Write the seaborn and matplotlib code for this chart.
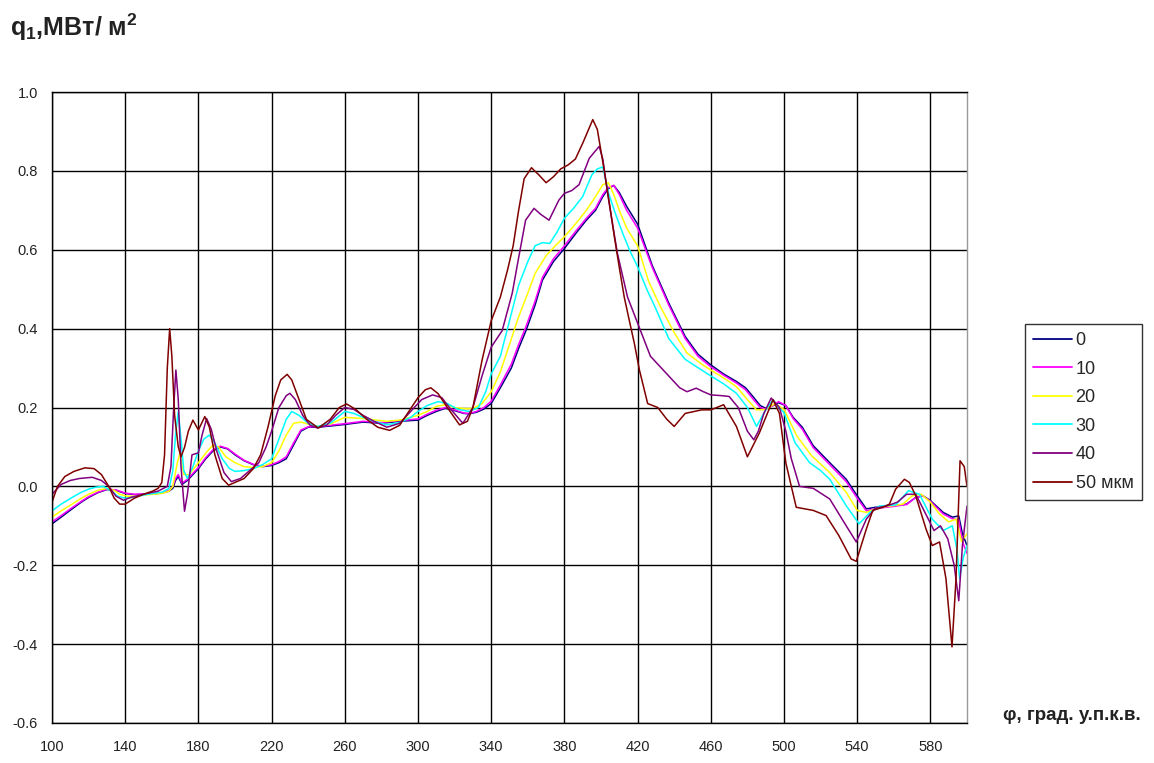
import numpy as np
import pandas as pd
import matplotlib
matplotlib.use("Agg")
import matplotlib.pyplot as plt
from matplotlib.lines import Line2D
import seaborn as sns

# ---------------- data ----------------
series_labels = ["0", "10", "20", "30", "40", "50 мкм"]
series_colors = ["#000080", "#FF00FF", "#FFFF00", "#00FFFF", "#800080", "#800000"]

x0 = [100,105,111,116,120,125,130,135,140,145,150,155,160,164,166,167.5,169,171,174,177,
      180,184,188,192,196,200,205,210,215,220,224,228,232,236,240,245,252,260,270,280,
      290,300,305,310,315,320,325,328,332,336,340,345,351,355,359,364,368,374,380,386,
      392,397,401,404,407,410,414,420,428,437,446,453,460,467,474,479,483,487,490,494,
      497,501,505,510,516,525,534,540,545,550,558,567,572,576,580,587,592,595.5,597.5,600]
y0 = [-0.095,-0.078,-0.057,-0.04,-0.028,-0.016,-0.008,-0.01,-0.018,-0.021,
      -0.02,-0.019,-0.017,-0.012,-0.005,0.015,0.025,0.005,0.015,0.03,
      0.045,0.07,0.09,0.10,0.095,0.08,0.065,0.055,0.05,0.053,
      0.06,0.07,0.105,0.14,0.15,0.15,0.153,0.157,0.163,0.16,
      0.165,0.168,0.18,0.19,0.198,0.192,0.185,0.184,0.188,0.196,
      0.21,0.25,0.30,0.35,0.395,0.46,0.523,0.57,0.603,0.64,
      0.675,0.70,0.735,0.755,0.763,0.745,0.71,0.665,0.56,0.465,
      0.38,0.335,0.308,0.285,0.266,0.25,0.228,0.205,0.198,0.205,
      0.212,0.205,0.175,0.15,0.103,0.06,0.018,-0.024,-0.057,-0.053,
      -0.05,-0.045,-0.028,-0.024,-0.036,-0.066,-0.078,-0.075,-0.12,-0.15]

x10 = x0
y10 = [-0.09,-0.074,-0.054,-0.038,-0.026,-0.015,-0.007,-0.009,-0.017,-0.02,
       -0.019,-0.018,-0.016,-0.01,0.0,0.02,0.03,0.008,0.018,0.033,
       0.048,0.073,0.093,0.102,0.096,0.082,0.066,0.056,0.051,0.055,
       0.063,0.075,0.11,0.143,0.151,0.151,0.155,0.159,0.165,0.162,
       0.167,0.171,0.183,0.193,0.2,0.194,0.186,0.185,0.19,0.2,
       0.216,0.257,0.31,0.36,0.405,0.47,0.53,0.577,0.61,0.646,
       0.68,0.705,0.74,0.758,0.763,0.74,0.70,0.655,0.555,0.46,
       0.375,0.33,0.303,0.282,0.262,0.245,0.222,0.2,0.196,0.205,
       0.215,0.205,0.172,0.145,0.098,0.055,0.012,-0.03,-0.062,-0.056,
       -0.052,-0.046,-0.028,-0.024,-0.038,-0.07,-0.082,-0.085,-0.14,-0.17]

x20 = [100,105,111,116,120,125,130,134,137,141,145,150,155,160,164,166,168.5,170,172,175,
       180,185,188,191,195,200,205,210,215,220,224,228,232,236,240,245,252,260,270,283,
       290,300,305,310,315,320,326,330,335,340,345,350,355,360,364,370,375,380,386,392,
       397,401,404,407,410,414,420,426,432,440,447,455,460,467,474,480,485,490,495,500,
       507,515,525,534,540,545,552,558,565,570,575,580,585,590,594,597,600]
y20 = [-0.078,-0.062,-0.045,-0.03,-0.02,-0.01,-0.005,-0.01,-0.02,-0.025,
       -0.025,-0.022,-0.02,-0.018,-0.012,0.0,0.06,0.085,0.03,0.03,
       0.06,0.09,0.105,0.10,0.075,0.06,0.05,0.048,0.05,0.06,
       0.09,0.13,0.16,0.163,0.158,0.152,0.158,0.175,0.172,0.165,
       0.168,0.18,0.19,0.203,0.207,0.20,0.197,0.198,0.21,0.24,
       0.29,0.36,0.43,0.49,0.54,0.585,0.61,0.633,0.665,0.70,
       0.735,0.765,0.77,0.74,0.70,0.655,0.61,0.52,0.46,0.39,
       0.338,0.31,0.295,0.275,0.253,0.22,0.194,0.195,0.21,0.195,
       0.128,0.078,0.035,-0.015,-0.061,-0.066,-0.053,-0.05,-0.045,-0.024,
       -0.02,-0.04,-0.07,-0.09,-0.083,-0.14,-0.12]

x30 = [100,105,111,116,120,124,128,132,136,140,145,150,155,160,164,166,167.5,169,170.5,172,
       174,177,180,183,186,189,193,197,200,205,210,215,220,224,228,231,235,240,245,252,
       260,265,270,276,283,290,296,300,305,311,316,322,328,333,337,340,345,350,355,360,
       364,368,372,376,380,385,390,395,398,401,404,408,412,416,420,425,430,437,446,455,
       460,467,474,480,485,490,494,497,500,506,514,520,525,534,541,547,552,561,568,574,
       581,587,592,594.5,596,598,600]
y30 = [-0.062,-0.045,-0.028,-0.015,-0.007,-0.002,0.0,-0.01,-0.025,-0.03,
       -0.027,-0.022,-0.018,-0.015,-0.005,0.04,0.13,0.19,0.12,0.04,
       0.02,0.05,0.09,0.12,0.13,0.11,0.07,0.045,0.038,0.04,
       0.045,0.055,0.07,0.12,0.17,0.19,0.18,0.16,0.152,0.16,
       0.19,0.185,0.175,0.165,0.156,0.162,0.175,0.19,0.205,0.215,
       0.21,0.195,0.19,0.20,0.24,0.285,0.33,0.42,0.51,0.57,
       0.61,0.618,0.616,0.645,0.68,0.705,0.735,0.79,0.805,0.81,
       0.745,0.69,0.64,0.595,0.557,0.50,0.45,0.375,0.322,0.295,
       0.28,0.26,0.236,0.20,0.152,0.194,0.22,0.20,0.187,0.111,
       0.06,0.04,0.018,-0.049,-0.095,-0.066,-0.05,-0.047,-0.011,-0.02,
       -0.083,-0.112,-0.1,-0.16,-0.234,-0.18,-0.15]

x40 = [100,105,110,115,122,127,131,135,139,143,150,158,163,165,166.5,167.7,169,170.5,172.4,174,
       176.5,180,182,184.5,187,190,194,198,203,208,213,217,220,224,228,230,233,237,241,245,
       250,255,260,265,270,276,283,290,296,302,308,313,318,324.5,330,335,340,346,351.5,355,
       358.8,363.4,367,371.6,377,380,384,388,393.6,399,401,403.6,406.5,409,414.5,420,427,433,439,443,
       447,452,456,460,466,470,475,480,483.5,486,489,493,497.5,501,504,508.5,516,525,534,539.5,
       545,550,556,562,567,572,577,582,585.5,589.5,593,595.5,597.5,600]
y40 = [-0.02,0.005,0.015,0.02,0.023,0.015,0.0,-0.025,-0.035,-0.028,
       -0.02,-0.012,0.0,0.05,0.2,0.295,0.22,0.05,-0.063,-0.02,
       0.08,0.085,0.13,0.172,0.145,0.09,0.035,0.012,0.02,0.04,
       0.06,0.1,0.14,0.2,0.23,0.236,0.22,0.18,0.155,0.148,
       0.155,0.18,0.2,0.195,0.18,0.165,0.15,0.16,0.19,0.22,
       0.232,0.225,0.195,0.16,0.2,0.28,0.353,0.395,0.49,0.58,
       0.675,0.705,0.69,0.675,0.726,0.743,0.75,0.765,0.832,0.862,
       0.83,0.743,0.66,0.59,0.48,0.414,0.33,0.30,0.27,0.25,
       0.24,0.249,0.24,0.232,0.23,0.228,0.2,0.14,0.118,0.14,
       0.185,0.224,0.2,0.14,0.07,0.0,-0.005,-0.032,-0.1,-0.141,
       -0.083,-0.055,-0.05,-0.04,-0.02,-0.02,-0.066,-0.112,-0.1,-0.133,
       -0.2,-0.29,-0.15,-0.05]

x50 = [100,103,107,112,118,123,127,131,134,137,140,145,150,155,158,160,161.5,163,164.3,165.5,
       167,169,170.5,172.5,174.5,177,180,183.5,186,189,193,196.5,200,205,210,214,218,222,225,228.5,
       231,235,239,245.5,252,257,261,266,272,278,284.5,290,295,300,304,307,311,316,322.7,327,
       330,335,340,345,349,352,355,358,362,366,370,374,378,382,386,390,395.5,398,401.8,404.5,
       407.3,410,412.7,415.5,418.2,421,425.5,431,436,440,446,455,460,467,474,480,486.5,494,497.5,501,
       504,506.7,516,523,530,536.7,539.5,545,548.5,554,557.6,561,565.8,568.5,572,577.6,581,585,588.5,591.8,
       594,596.2,598.5,600]
y50 = [-0.04,0.0,0.025,0.038,0.047,0.045,0.03,0.0,-0.03,-0.045,
       -0.045,-0.03,-0.02,-0.012,-0.005,0.01,0.08,0.30,0.40,0.33,
       0.18,0.10,0.075,0.10,0.14,0.168,0.143,0.177,0.15,0.08,
       0.02,0.003,0.01,0.02,0.045,0.08,0.15,0.23,0.27,0.284,
       0.27,0.22,0.17,0.148,0.17,0.2,0.209,0.195,0.17,0.15,
       0.142,0.155,0.19,0.225,0.245,0.25,0.235,0.2,0.156,0.165,
       0.2,0.32,0.42,0.48,0.55,0.61,0.70,0.78,0.808,0.79,
       0.77,0.785,0.805,0.815,0.83,0.87,0.93,0.905,0.80,0.72,
       0.633,0.555,0.48,0.42,0.363,0.295,0.21,0.2,0.17,0.152,
       0.185,0.194,0.194,0.207,0.152,0.075,0.135,0.22,0.185,0.06,
       0.0,-0.053,-0.061,-0.074,-0.125,-0.184,-0.19,-0.108,-0.061,-0.053,
       -0.045,-0.007,0.018,0.01,-0.024,-0.108,-0.15,-0.141,-0.234,-0.407,
       -0.234,0.065,0.05,0.0]

x_ticks = list(range(100, 600, 40))
y_ticks = [-0.6, -0.4, -0.2, 0.0, 0.2, 0.4, 0.6, 0.8, 1.0]

# ---------------- long-form table ----------------
frames = []
for lab, xs, ys in zip(series_labels, [x0, x10, x20, x30, x40, x50],
                       [y0, y10, y20, y30, y40, y50]):
    frames.append(pd.DataFrame({"phi": xs, "q": ys, "series": lab}))
df = pd.concat(frames, ignore_index=True)

# ---------------- plot ----------------
sns.set_style("white")
plt.rcParams["font.family"] = ["Liberation Sans", "DejaVu Sans"]
plt.rcParams["axes.unicode_minus"] = False
plt.rcParams["mathtext.fontset"] = "custom"
plt.rcParams["mathtext.rm"] = "Liberation Sans:bold"
plt.rcParams["mathtext.it"] = "Liberation Sans:bold"
plt.rcParams["mathtext.bf"] = "Liberation Sans:bold"

W, H = 1154, 763
fig = plt.figure(figsize=(W / 100, H / 100), dpi=100)
ax = fig.add_axes([52 / W, 1 - 723 / H, (967 - 52) / W, (723 - 92) / H])

palette = dict(zip(series_labels, series_colors))
sns.lineplot(data=df, x="phi", y="q", hue="series", hue_order=series_labels,
             palette=palette, estimator=None, sort=False, linewidth=1.1,
             legend=False, ax=ax)

ax.set_xlim(100, 600)
ax.set_ylim(-0.6, 1.0)
ax.set_xticks(x_ticks)
ax.set_yticks(y_ticks)
ax.set_yticklabels([f"{v:.1f}" for v in y_ticks])
ax.grid(True, color="black", linewidth=1.0)
ax.set_axisbelow(True)
ax.tick_params(axis="x", length=0, pad=12, labelsize=10.5, colors="#222222")
ax.tick_params(axis="y", length=4, width=1, direction="out", pad=6,
               labelsize=10.5, colors="black", labelcolor="#222222")
ax.set_xlabel("")
ax.set_ylabel("")
for side in ["left", "bottom", "top"]:
    ax.spines[side].set_color("black")
    ax.spines[side].set_linewidth(1.0)
ax.spines["right"].set_color("#9a9a9a")
ax.spines["right"].set_linewidth(1.0)

fig.text(10 / W, 1 - 27 / H, r"q$_\mathrm{1}$,МВт/ м$^\mathrm{2}$", fontsize=18,
         fontweight="bold", ha="left", va="center", color="#222222")
fig.text(1003 / W, 1 - 716 / H, "φ, град. у.п.к.в.", fontsize=13.5,
         fontweight="bold", ha="left", va="center", color="#222222")

handles = [Line2D([0], [0], color=c, linewidth=1.3) for c in series_colors]
leg = fig.legend(handles, series_labels, loc="upper left",
                 bbox_to_anchor=(1025 / W, 1 - 324 / H), fontsize=13,
                 frameon=True, fancybox=False, edgecolor="black",
                 handlelength=2.15, handletextpad=0.2, labelspacing=0.64,
                 borderpad=0.45, borderaxespad=0)
leg.get_frame().set_linewidth(1.0)

fig.savefig("out.png", dpi=100, facecolor="white")
